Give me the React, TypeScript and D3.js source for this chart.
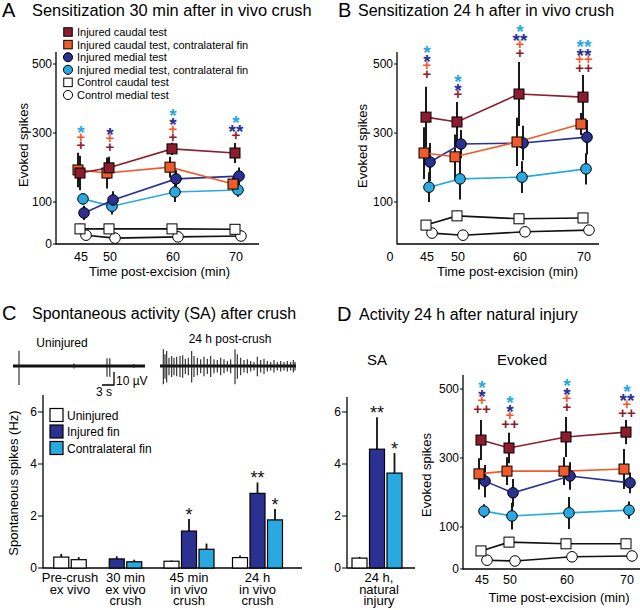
import React from "react";
import * as d3 from "d3";

const FONT = "'Liberation Sans', Arial, Helvetica, sans-serif";

// ---------- shared ----------
const TIMES = [45, 50, 60, 70];
const Y_TICKS = [0, 100, 300, 500];
const Y_TICKS_B = [100, 300, 500];

// ---------- Panel A (30 min after in vivo crush) ----------
const A_RED = [184, 199, 254, 242];
const A_RED_ERR = [50, 32, 18, 29];
const A_ORANGE = [193, 184, 201, 152];
const A_ORANGE_ERR = [50, 45, 30, 20];
const A_DARK = [74, 106, 167, 175];
const A_DARK_ERR = [17, 25, 25, 25];
const A_LIGHT = [109, 90, 129, 135];
const A_LIGHT_ERR = [15, 20, 29, 20];
const A_CSQ = [36, 36, 36, 35];
const A_CSQ_ERR = [12, 12, 10, 10];
const A_CCI = [21, 14, 17, 19];
const A_CCI_ERR = [6, 6, 6, 6];
const A_SIG_RED = ["+", "+", "+", "+"];
const A_SIG_ORANGE = ["+", "+", "+", ""];
const A_SIG_DARK = ["", "*", "*", "**"];
const A_SIG_LIGHT = ["*", "", "*", "*"];
const A_SIG_BASE = [265, 260, 288, 294];

// ---------- Panel B (24 h after in vivo crush) ----------
const B_RED = [346, 332, 413, 404];
const B_RED_ERR = [88, 58, 93, 64];
const B_ORANGE = [242, 231, 274, 326];
const B_ORANGE_ERR = [75, 65, 70, 32];
const B_DARK = [216, 268, 271, 288];
const B_DARK_ERR = [55, 41, 50, 50];
const B_LIGHT = [143, 167, 172, 196];
const B_LIGHT_ERR = [43, 60, 46, 45];
const B_CSQ = [45, 67, 60, 62];
const B_CSQ_ERR = [12, 12, 12, 12];
const B_CCI = [26, 21, 29, 33];
const B_CCI_ERR = [8, 8, 6, 6];
const B_SIG_RED = ["+", "+", "+", "++"];
const B_SIG_ORANGE = ["+", "", "+", "++"];
const B_SIG_DARK = ["*", "*", "**", "**"];
const B_SIG_LIGHT = ["*", "*", "*", "**"];
const B_SIG_BASE = [471, 413, 532, 489];

// ---------- Panel D evoked (24 h after natural injury) ----------
const D_RED = [352, 329, 361, 375];
const D_RED_ERR = [58, 44, 58, 35];
const D_ORANGE = [254, 262, 262, 268];
const D_ORANGE_ERR = [45, 40, 40, 58];
const D_DARK = [233, 199, 248, 228];
const D_DARK_ERR = [47, 40, 40, 30];
const D_LIGHT = [146, 132, 141, 149];
const D_LIGHT_ERR = [20, 38, 46, 25];
const D_CSQ = [43, 64, 60, 60];
const D_CSQ_ERR = [12, 12, 12, 12];
const D_CCI = [21, 19, 29, 31];
const D_CCI_ERR = [6, 6, 6, 6];
const D_SIG_RED = ["++", "++", "+", "++"];
const D_SIG_ORANGE = ["+", "+", "+", "+"];
const D_SIG_DARK = ["*", "*", "*", "**"];
const D_SIG_LIGHT = ["*", "*", "*", "*"];
const D_SIG_BASE = [442, 399, 448, 431];

// ---------- Panel C bars ----------
const C_GROUP_LABELS = [
  ["Pre-crush", "ex vivo"],
  ["30 min", "ex vivo", "crush"],
  ["45 min", "in vivo", "crush"],
  ["24 h", "in vivo", "crush"],
];
const C_BAR_GROUP = [0, 0, 1, 1, 2, 2, 2, 3, 3, 3];
const C_BAR_TYPE = ["U", "U", "I", "C", "U", "I", "C", "U", "I", "C"];
const C_BAR_VALUE = [0.42, 0.32, 0.35, 0.24, 0.26, 1.42, 0.72, 0.4, 2.87, 1.85];
const C_BAR_ERR = [0.12, 0.1, 0.1, 0.08, 0.03, 0.46, 0.22, 0.08, 0.42, 0.42];
const C_BAR_SIG = ["", "", "", "", "", "*", "", "", "**", "*"];
const SA_TICKS = [0, 2, 4, 6];
const C_LEGEND = ["Uninjured", "Injured fin", "Contralateral fin"];
const C_LEGEND_TYPE = ["U", "I", "C"];

// ---------- Panel D SA bars ----------
const D_SA_LABEL = ["24 h,", "natural", "injury"];
const D_SA_TYPE = ["U", "I", "C"];
const D_SA_VALUE = [0.38, 4.57, 3.65];
const D_SA_ERR = [0.05, 1.23, 0.77];
const D_SA_SIG = ["", "**", "*"];

// ---------- Traces (time s, amplitude µV) ----------
const T1_TIME = [1.5, 15.25, 23.5, 24.2, 30.2];
const T1_UP = [11.8, 2.0, 5.9, 5.9, 1.5];
const T1_DOWN = [14.6, 2.0, 8.2, 8.2, 1.5];
const T2_TIME = [0.83, 1.25, 1.67, 2.25, 2.92, 3.5, 4.17, 5.0, 5.67, 6.33, 7.08, 7.92, 8.5, 9.33, 10.17, 11.0, 11.83, 12.67, 13.5, 14.33, 15.17, 16.0, 16.83, 17.67, 18.75, 19.33, 20.17, 21.0, 21.83, 22.67, 23.5, 24.33, 25.17, 26.0, 26.83, 27.67, 28.5, 29.33, 30.17, 31.0, 31.83, 32.67, 33.33, 33.75];
const T2_AMP = [12.8, 9, 11.5, 6.4, 7.7, 6.4, 7.2, 7.7, 8.2, 5.6, 6.4, 11.5, 7.7, 6.4, 5.1, 7.2, 5.6, 7.7, 5.1, 4.6, 6.4, 5.1, 3.8, 5.1, 12.8, 9, 6.4, 4.6, 5.1, 3.8, 3.1, 7.2, 4.6, 5.6, 3.8, 3.1, 4.6, 3.1, 3.8, 3.1, 3.8, 3.1, 4.6, 3.1];

// ---------- styles ----------
const COL = { red: "#8c1d2f", orange: "#f15a2b", dark: "#2b3190", light: "#29a9e0" };
const BAR_FILL = { U: "#ffffff", I: "#2b3190", C: "#29a9e0" };
const STYLE = {
  cci: { fill: "#fff", line: "#111", shape: "circle", dx: 5 },
  csq: { fill: "#fff", line: "#111", shape: "square", dx: -1 },
  light: { fill: COL.light, line: COL.light, shape: "circle", dx: 2 },
  dark: { fill: COL.dark, line: COL.dark, shape: "circle", dx: 3 },
  orange: { fill: COL.orange, line: COL.orange, shape: "square", dx: -3 },
  red: { fill: COL.red, line: COL.red, shape: "square", dx: -1 },
};

const makeEvokedY = (off: number) =>
  d3.scaleLinear().domain([0, 100, 500]).range([244 + off, 202 + off, 64 + off]);

function Marker({ shape, x, y, fill, size }: any) {
  if (shape === "square")
    return <rect x={x - size / 2} y={y - size / 2} width={size} height={size} fill={fill} stroke="#000" strokeWidth={1} />;
  return <circle cx={x} cy={y} r={size / 2 + 0.3} fill={fill} stroke="#000" strokeWidth={1} />;
}

function SigMark({ x, cy, s, color }: any) {
  const star = s.includes("*");
  const fs = star ? 19 : 15;
  const base = cy + (star ? 0.6 * fs : 0.35 * fs);
  return (
    <text x={x} y={base} textAnchor="middle" fontSize={fs} fontWeight="bold" fill={color} fontFamily={FONT}>
      {s}
    </text>
  );
}

function EvokedPanel(p: any) {
  const { xs, ys, axisX, axisTop, xEnd, yTicks, series, sig, sigBase, ylabel, xlabel, tickY, zeroLabel } = p;
  const y0 = ys(0);
  const line = d3.line<number>();
  return (
    <g fontFamily={FONT}>
      <line x1={axisX} x2={axisX} y1={axisTop} y2={y0 + 0.5} stroke="#000" strokeWidth={1.3} />
      <line x1={axisX} x2={xEnd} y1={y0} y2={y0} stroke="#000" strokeWidth={1.3} />
      {yTicks.map((t: number) => (
        <g key={t}>
          <line x1={axisX - 3} x2={axisX} y1={ys(t)} y2={ys(t)} stroke="#000" strokeWidth={1} />
          <text x={axisX - 4} y={ys(t) + 4} textAnchor="end" fontSize={12}>{t}</text>
        </g>
      ))}
      {TIMES.map((t) => (
        <text key={t} x={xs(t)} y={tickY} textAnchor="middle" fontSize={12.5}>{t}</text>
      ))}
      {zeroLabel && (
        <text x={axisX - 7} y={tickY} textAnchor="middle" fontSize={12.5}>0</text>
      )}
      <text x={xlabel[0]} y={xlabel[1]} textAnchor="middle" fontSize={13}>Time post-excision (min)</text>
      <text transform={`translate(${ylabel[0]},${ylabel[1]}) rotate(-90)`} textAnchor="middle" fontSize={13}>Evoked spikes</text>
      {series.map((s: any) =>
        s.values.map((v: number, i: number) => {
          const x = xs(TIMES[i]) + STYLE[s.key].dx;
          return (
            <line key={s.key + "e" + i} x1={x} x2={x} y1={ys(Math.max(0, v - s.errs[i]))} y2={ys(v + s.errs[i])} stroke="#1a1a1a" strokeWidth={2} />
          );
        })
      )}
      {series.map((s: any) => (
        <path
          key={s.key + "l"}
          d={line(s.values.map((v: number, i: number) => [xs(TIMES[i]) + STYLE[s.key].dx, ys(v)]) as any) || ""}
          fill="none"
          stroke={STYLE[s.key].line}
          strokeWidth={1.6}
        />
      ))}
      {series.map((s: any) =>
        s.values.map((v: number, i: number) => (
          <Marker key={s.key + "m" + i} shape={STYLE[s.key].shape} x={xs(TIMES[i]) + STYLE[s.key].dx} y={ys(v)} fill={STYLE[s.key].fill} size={10} />
        ))
      )}
      {TIMES.map((t, i) => {
        const stack = [
          { s: sig.red[i], c: COL.red },
          { s: sig.orange[i], c: COL.orange },
          { s: sig.dark[i], c: COL.dark },
          { s: sig.light[i], c: COL.light },
        ].filter((d) => d.s);
        const x = xs(t);
        return stack.map((d, k) => (
          <SigMark key={t + "s" + k} x={x} cy={ys(sigBase[i]) - k * 8.8} s={d.s} color={d.c} />
        ));
      })}
    </g>
  );
}

function BarGroup(p: any) {
  const { ys, center, types, values, errs, sigs, slot0 } = p;
  const n = types.length;
  const step = 17.5;
  const w = 15;
  return (
    <g>
      {types.map((t: string, k: number) => {
        const cx = center + (k - (n - 1) / 2) * step;
        const v = values[k];
        const e = errs[k];
        return (
          <g key={slot0 + "-" + k}>
            <line x1={cx} x2={cx} y1={ys(v)} y2={ys(v + e)} stroke="#111" strokeWidth={1.8} />
            <rect x={cx - w / 2} y={ys(v)} width={w} height={ys(0) - ys(v)} fill={BAR_FILL[t]} stroke="#000" strokeWidth={1.2} />
            {sigs[k] && (
              <text x={cx} y={ys(v + e) - 9 + 0.6 * 18} textAnchor="middle" fontSize={18} fill="#111">{sigs[k]}</text>
            )}
          </g>
        );
      })}
    </g>
  );
}

function Trace({ xs, ys, times, up, down }: any) {
  const [x0, x1] = xs.range();
  return (
    <g>
      <line x1={x0} x2={x1} y1={ys(0)} y2={ys(0)} stroke="#111" strokeWidth={2.8} />
      {times.map((t: number, i: number) => (
        <line key={i} x1={xs(t)} x2={xs(t)} y1={ys(up[i])} y2={ys(-down[i])} stroke="#222" strokeWidth={1.1} />
      ))}
    </g>
  );
}

export default function App() {
  const yA = makeEvokedY(0);
  const yD = makeEvokedY(325);
  const xA = d3.scaleLinear().domain(TIMES).range([81, 110, 173, 236]);
  const xB = d3.scaleLinear().domain(TIMES).range([427, 458, 520, 584]);
  const xD = d3.scaleLinear().domain(TIMES).range([482, 510, 567, 627]);

  const seriesA = [
    { key: "cci", values: A_CCI, errs: A_CCI_ERR },
    { key: "csq", values: A_CSQ, errs: A_CSQ_ERR },
    { key: "light", values: A_LIGHT, errs: A_LIGHT_ERR },
    { key: "dark", values: A_DARK, errs: A_DARK_ERR },
    { key: "orange", values: A_ORANGE, errs: A_ORANGE_ERR },
    { key: "red", values: A_RED, errs: A_RED_ERR },
  ];
  const seriesB = [
    { key: "cci", values: B_CCI, errs: B_CCI_ERR },
    { key: "csq", values: B_CSQ, errs: B_CSQ_ERR },
    { key: "light", values: B_LIGHT, errs: B_LIGHT_ERR },
    { key: "dark", values: B_DARK, errs: B_DARK_ERR },
    { key: "orange", values: B_ORANGE, errs: B_ORANGE_ERR },
    { key: "red", values: B_RED, errs: B_RED_ERR },
  ];
  const seriesD = [
    { key: "cci", values: D_CCI, errs: D_CCI_ERR },
    { key: "csq", values: D_CSQ, errs: D_CSQ_ERR },
    { key: "light", values: D_LIGHT, errs: D_LIGHT_ERR },
    { key: "dark", values: D_DARK, errs: D_DARK_ERR },
    { key: "orange", values: D_ORANGE, errs: D_ORANGE_ERR },
    { key: "red", values: D_RED, errs: D_RED_ERR },
  ];

  const legendA = [
    { key: "red", label: "Injured caudal test" },
    { key: "orange", label: "Injured caudal test, contralateral fin" },
    { key: "dark", label: "Injured medial test" },
    { key: "light", label: "Injured medial test, contralateral fin" },
    { key: "csq", label: "Control caudal test" },
    { key: "cci", label: "Control medial test" },
  ];

  const ySA = d3.scaleLinear().domain([0, 6]).range([568, 412]);
  const xGroupC = d3.scaleOrdinal<number, number>().domain([0, 1, 2, 3]).range([70, 125.5, 189, 257.5]);
  const xGroupD = d3.scaleOrdinal<number, number>().domain([0]).range([377]);

  const yTr = d3.scaleLinear().domain([-15, 15]).range([366 + 19.5, 366 - 19.5]);
  const xTr1 = d3.scaleLinear().domain([0, 33]).range([13, 145]);
  const xTr2 = d3.scaleLinear().domain([0, 34]).range([160, 296]);

  return (
    <svg width={640} height={610} style={{ position: "absolute", left: 0, top: 0, background: "#fff" }} fontFamily={FONT}>
      <rect width={640} height={610} fill="#fff" />
      <text x={2} y={17} fontSize={20}>A</text>
      <text x={32} y={16} fontSize={16.4}>Sensitization 30 min after in vivo crush</text>
      <text x={338} y={17} fontSize={20}>B</text>
      <text x={358} y={16} fontSize={16}>Sensitization 24 h after in vivo crush</text>
      <text x={2} y={320} fontSize={20}>C</text>
      <text x={32} y={319} fontSize={16}>Spontaneous activity (SA) after crush</text>
      <text x={337} y={321} fontSize={20}>D</text>
      <text x={359} y={320} fontSize={16}>Activity 24 h after natural injury</text>

      <EvokedPanel
        xs={xA}
        ys={yA}
        axisX={56}
        axisTop={52}
        xEnd={259}
        yTicks={Y_TICKS}
        series={seriesA}
        sig={{ red: A_SIG_RED, orange: A_SIG_ORANGE, dark: A_SIG_DARK, light: A_SIG_LIGHT }}
        sigBase={A_SIG_BASE}
        ylabel={[28, 145]}
        xlabel={[159.5, 276]}
        tickY={261}
      />
      {legendA.map((d, i) => (
        <g key={d.key}>
          <Marker shape={STYLE[d.key].shape} x={68} y={32 + i * 12.6} fill={STYLE[d.key].fill} size={8.5} />
          <text x={77} y={32 + i * 12.6 + 4} fontSize={11}>{d.label}</text>
        </g>
      ))}

      <EvokedPanel
        xs={xB}
        ys={yA}
        axisX={397}
        axisTop={52}
        xEnd={599}
        yTicks={Y_TICKS_B}
        series={seriesB}
        sig={{ red: B_SIG_RED, orange: B_SIG_ORANGE, dark: B_SIG_DARK, light: B_SIG_LIGHT }}
        sigBase={B_SIG_BASE}
        ylabel={[367, 146]}
        xlabel={[507.5, 276]}
        tickY={261}
        zeroLabel
      />

      <EvokedPanel
        xs={xD}
        ys={yD}
        axisX={463}
        axisTop={375}
        xEnd={640}
        yTicks={Y_TICKS}
        series={seriesD}
        sig={{ red: D_SIG_RED, orange: D_SIG_ORANGE, dark: D_SIG_DARK, light: D_SIG_LIGHT }}
        sigBase={D_SIG_BASE}
        ylabel={[431, 475]}
        xlabel={[559, 602]}
        tickY={584}
      />
      <text x={377} y={365} textAnchor="middle" fontSize={15}>SA</text>
      <text x={522} y={365} textAnchor="middle" fontSize={15}>Evoked</text>

      <text x={62} y={347} textAnchor="middle" fontSize={12}>Uninjured</text>
      <text x={230} y={343} textAnchor="middle" fontSize={12}>24 h post-crush</text>
      <Trace xs={xTr1} ys={yTr} times={T1_TIME} up={T1_UP} down={T1_DOWN} />
      <Trace xs={xTr2} ys={yTr} times={T2_TIME} up={T2_AMP} down={T2_AMP.map((a) => a * 1.1)} />
      <path d={`M${xTr1(22.25)},${yTr(-14.6)}H${xTr1(25.25)}V${yTr(-4.6)}`} fill="none" stroke="#000" strokeWidth={1.3} />
      <text x={116} y={385} fontSize={12}>10 µV</text>
      <text x={104} y={396} textAnchor="middle" fontSize={12}>3 s</text>

      <g fontFamily={FONT}>
        <line x1={43} x2={43} y1={395} y2={568.5} stroke="#000" strokeWidth={1.3} />
        <line x1={43} x2={302} y1={568} y2={568} stroke="#000" strokeWidth={1.3} />
        {SA_TICKS.map((t) => (
          <g key={t}>
            <line x1={38} x2={43} y1={ySA(t)} y2={ySA(t)} stroke="#000" strokeWidth={1} />
            <text x={37} y={ySA(t) + 4} textAnchor="end" fontSize={12}>{t}</text>
          </g>
        ))}
        <text transform={`translate(18,483) rotate(-90)`} textAnchor="middle" fontSize={13}>Spontaneous spikes (Hz)</text>
        {C_GROUP_LABELS.map((lines, g) => {
          const idx = C_BAR_GROUP.map((gg, i) => (gg === g ? i : -1)).filter((i) => i >= 0);
          return (
            <g key={g}>
              <BarGroup
                ys={ySA}
                center={xGroupC(g)}
                types={idx.map((i) => C_BAR_TYPE[i])}
                values={idx.map((i) => C_BAR_VALUE[i])}
                errs={idx.map((i) => C_BAR_ERR[i])}
                sigs={idx.map((i) => C_BAR_SIG[i])}
                slot0={g}
              />
              {lines.map((l, k) => (
                <text key={k} x={xGroupC(g)} y={582 + k * 11.5} textAnchor="middle" fontSize={13}>{l}</text>
              ))}
            </g>
          );
        })}
        {C_LEGEND.map((l, i) => (
          <g key={l}>
            <rect x={50} y={415 + i * 16.5 - 6.5} width={13} height={13} fill={BAR_FILL[C_LEGEND_TYPE[i]]} stroke="#000" strokeWidth={1.2} />
            <text x={67} y={415 + i * 16.5 + 4.5} fontSize={12}>{l}</text>
          </g>
        ))}
      </g>

      <g fontFamily={FONT}>
        <line x1={347} x2={347} y1={397} y2={568.5} stroke="#000" strokeWidth={1.3} />
        <line x1={347} x2={415} y1={568} y2={568} stroke="#000" strokeWidth={1.3} />
        {SA_TICKS.map((t) => (
          <g key={t}>
            <line x1={342} x2={347} y1={ySA(t)} y2={ySA(t)} stroke="#000" strokeWidth={1} />
            <text x={341} y={ySA(t) + 4} textAnchor="end" fontSize={12}>{t}</text>
          </g>
        ))}
        <BarGroup ys={ySA} center={xGroupD(0)} types={D_SA_TYPE} values={D_SA_VALUE} errs={D_SA_ERR} sigs={D_SA_SIG} slot0={9} />
        {D_SA_LABEL.map((l, k) => (
          <text key={k} x={xGroupD(0) + 2} y={582 + k * 11.5} textAnchor="middle" fontSize={13}>{l}</text>
        ))}
      </g>
    </svg>
  );
}
